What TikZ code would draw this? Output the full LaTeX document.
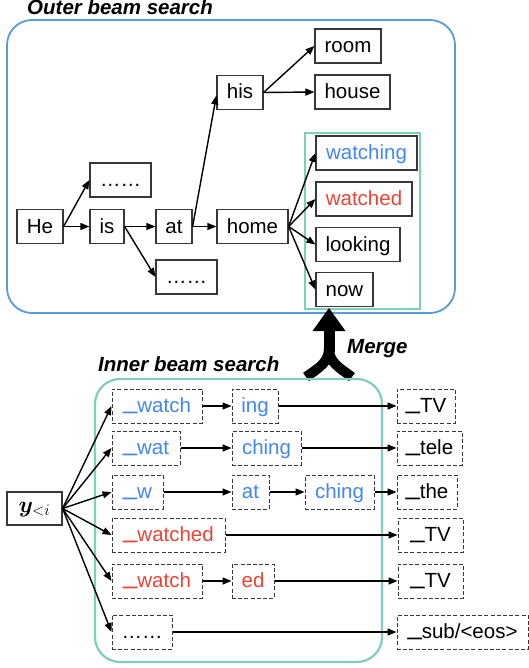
\RequirePackage{fix-cm}
\documentclass[tikz,border=0pt]{standalone}
\usepackage{fontspec}
\setmainfont{Liberation Sans}
\usepackage{bm}
\usetikzlibrary{arrows.meta,shadows}
\definecolor{oblue}{RGB}{91,155,213}
\definecolor{tealb}{RGB}{127,205,187}
\definecolor{tblue}{RGB}{66,133,244}
\definecolor{tred}{RGB}{234,67,53}
\definecolor{bord}{RGB}{55,55,55}
\newcommand{\ub}{\raisebox{0.2em}{\scalebox{1.25}[1.3]{\_}}}
\tikzset{
  obox/.style={draw=bord, line width=1.2pt, minimum height=34pt, inner sep=0pt,
    text height=16.5pt, text depth=3.5pt, font=\fontsize{20.5}{24}\selectfont},
  dbox/.style={obox, draw=bord, line width=1pt, dash pattern=on 4pt off 2.2pt},
  arr/.style={-{Triangle[length=9pt,width=7pt]}, line width=1.4pt},
  ttl/.style={anchor=base west, inner sep=0pt, font=\fontsize{20.5}{24}\selectfont\bfseries\itshape},
}
\begin{document}
\begin{tikzpicture}[x=1pt,y=-1pt]
\useasboundingbox (0,0) rectangle (529,668);
% outer
\draw[oblue, line width=1.8pt, rounded corners=25pt] (7,20) rectangle (455,313);
\draw[tealb, line width=2pt] (305,133) rectangle (420,309);
\node[ttl] (tout) at (27,15) {Outer beam search};
\node[obox, minimum width=46pt] (he) at (40,226.5) {He};
\node[obox, minimum width=34pt] (is) at (107,226.5) {is};
\node[obox, minimum width=61pt] (dA) at (120.5,180) {……};
\node[obox, minimum width=36pt] (at) at (174,226.5) {at};
\node[obox, minimum width=61pt] (dB) at (186.5,277) {……};
\node[obox, minimum width=46pt] (his) at (240,92.5) {his};
\node[obox, minimum width=71pt] (home) at (252.5,226.5) {home};
\node[obox, minimum width=66pt] (room) at (348,46) {room};
\node[obox, minimum width=75pt] (house) at (352.5,92) {house};
\node[obox, minimum width=101pt, text=tblue] (watching) at (366.5,153) {watching};
\node[obox, minimum width=96pt, text=tred] (watched) at (364,199) {watched};
\node[obox, minimum width=84pt] (looking) at (358,244.5) {looking};
\node[obox, minimum width=57pt] (now) at (344.5,289.5) {now};
\draw[arr] (he.east) -- (dA.west);
\draw[arr] (he.east) -- (is.west);
\draw[arr] (is.east) -- (at.west);
\draw[arr] (is.east) -- (dB.west);
\draw[arr] (at.east) -- ([yshift=-3pt]his.west);
\draw[arr] (at.east) -- (home.west);
\draw[arr] (his.east) -- (room.west);
\draw[arr] (his.east) -- (house.west);
\draw[arr] (home.east) -- (watching.west);
\draw[arr] (home.east) -- (watched.west);
\draw[arr] (home.east) -- (looking.west);
\draw[arr] (home.east) -- (now.west);
% merge arrow
\fill (329,308) -- (345.5,331) -- (312.5,331) -- cycle;
\draw[line width=11pt] (329,329) -- (329,352);
\draw[line width=10pt] (329,348) .. controls (329,362) and (320,367) .. (306,377);
\draw[line width=10pt] (329,348) .. controls (329,362) and (338,367) .. (352,377);
\node[ttl] (tmerge) at (347,353) {Merge};
% inner
\node[ttl] (tin) at (98,371) {Inner beam search};
\draw[tealb, line width=2.2pt, rounded corners=25pt] (95,379) rectangle (382,662);
\node[obox, minimum width=55pt, minimum height=33pt, text height=13pt, text depth=5pt,
  font=\fontsize{23}{26}\selectfont,
  drop shadow={shadow xshift=1.2pt, shadow yshift=-1.2pt, opacity=0.35}, fill=white] (y) at (34.5,508.5) {$\bm{y}_{<i}$};
% row 1
\node[dbox, minimum width=90pt, text=tblue] (r1a) at (157,406) {\ub watch};
\node[dbox, minimum width=46pt, text=tblue] (r1b) at (255,406) {ing};
\node[dbox, minimum width=58pt] (r1c) at (426,406) {\ub TV};
% row 2
\node[dbox, minimum width=68pt, text=tblue] (r2a) at (146,448) {\ub wat};
\node[dbox, minimum width=69pt, text=tblue] (r2b) at (266.5,448) {ching};
\node[dbox, minimum width=65pt] (r2c) at (429.5,448) {\ub tele};
% row 3
\node[dbox, minimum width=51pt, text=tblue] (r3a) at (137.5,492) {\ub w};
\node[dbox, minimum width=37pt, text=tblue] (r3b) at (250.5,492) {at};
\node[dbox, minimum width=69pt, text=tblue] (r3c) at (339.5,492) {ching};
\node[dbox, minimum width=60pt] (r3d) at (427,492) {\ub the};
% row 4
\node[dbox, minimum width=113pt, text=tred] (r4a) at (168.5,535) {\ub watched};
\node[dbox, minimum width=65pt] (r4b) at (430.5,535) {\ub TV};
% row 5
\node[dbox, minimum width=90pt, text=tred] (r5a) at (157,581) {\ub watch};
\node[dbox, minimum width=42pt, text=tred] (r5b) at (253,581) {ed};
\node[dbox, minimum width=65pt] (r5c) at (430.5,581) {\ub TV};
% row 6
\node[dbox, minimum width=60pt] (r6a) at (142,632) {……};
\node[dbox, minimum width=131pt] (r6b) at (462.5,632) {\ub sub/<eos>};
% arrows
\foreach \t in {r1a,r2a,r3a,r4a,r5a,r6a} \draw[arr] (y.east) -- (\t.west);
\draw[arr] (r1a) -- (r1b);
\draw[arr] (r1b) -- (r1c);
\draw[arr] (r2a) -- (r2b);
\draw[arr] (r2b) -- (r2c);
\draw[arr] (r3a) -- (r3b);
\draw[arr] (r3b) -- (r3c);
\draw[arr] (r3c) -- (r3d);
\draw[arr] (r4a) -- (r4b);
\draw[arr] (r5a) -- (r5b);
\draw[arr] (r5b) -- (r5c);
\draw[arr] (r6a) -- (r6b);
\end{tikzpicture}
\end{document}
